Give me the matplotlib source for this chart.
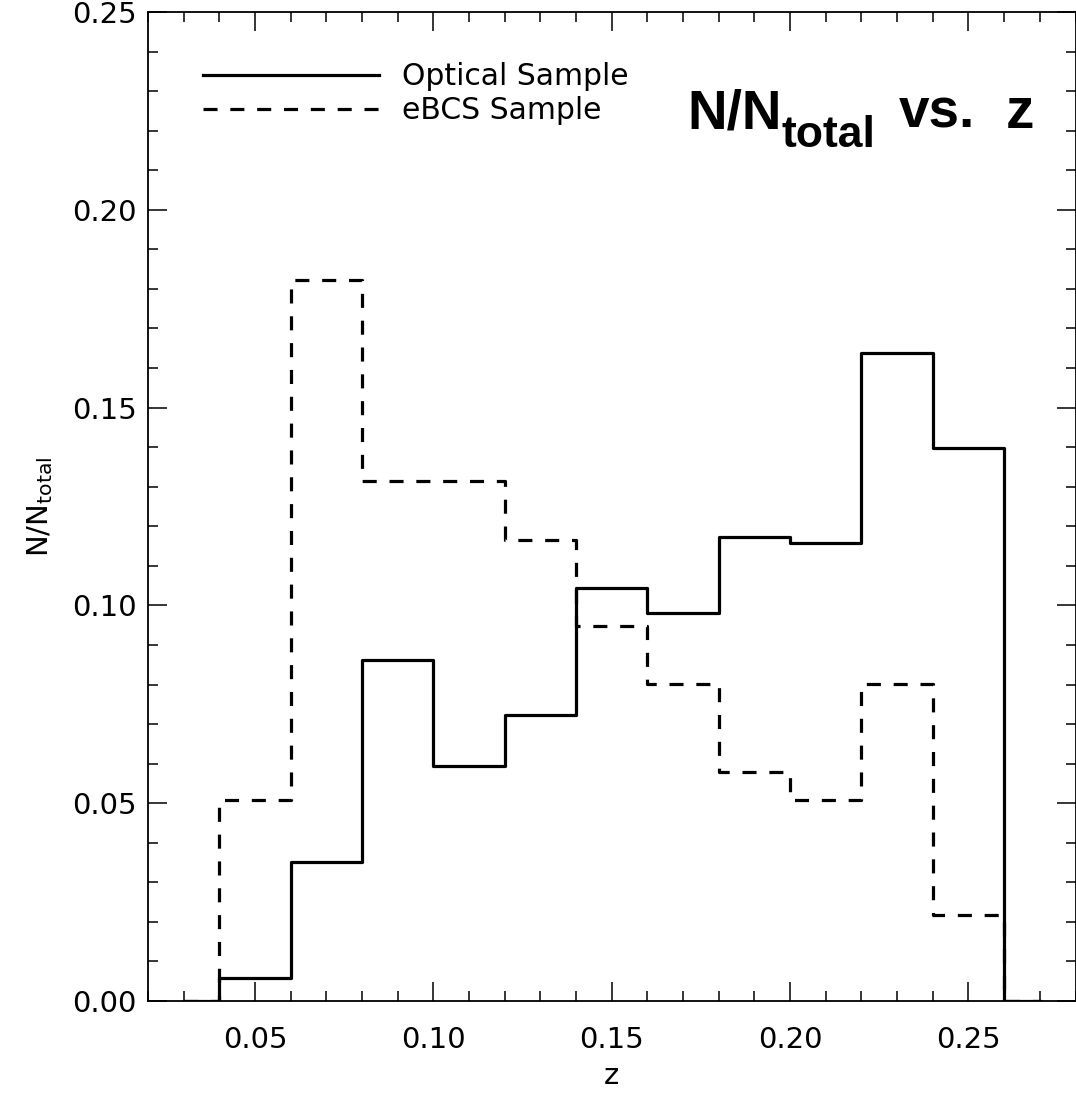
import numpy as np
import matplotlib
matplotlib.use("Agg")
import matplotlib.pyplot as plt
from matplotlib.ticker import MultipleLocator, FormatStrFormatter

# Bin centres (IDL psym=10 style histogram, width 0.02)
z_centers = [0.03, 0.05, 0.07, 0.09, 0.11, 0.13, 0.15, 0.17, 0.19, 0.21, 0.23, 0.25, 0.27]
optical_frac = [0.0, 0.0059, 0.0352, 0.0863, 0.0594, 0.0722, 0.1043, 0.0981,
                0.1172, 0.1157, 0.1638, 0.1398, 0.0]
ebcs_frac = [0.0, 0.0508, 0.1823, 0.1315, 0.1315, 0.1166, 0.0947, 0.0802,
             0.0580, 0.0509, 0.0801, 0.0217, 0.0]
series_labels = ['Optical Sample', 'eBCS Sample']

W, H = 1076, 1093
fig = plt.figure(figsize=(W / 100, H / 100), dpi=100)
ax = fig.add_axes([148 / W, 1 - 1001 / H, 927.5 / W, 989 / H])

lw = 2.3
ax.step(z_centers, optical_frac, where='mid', color='black', lw=lw,
        label=series_labels[0])
ax.step(z_centers, ebcs_frac, where='mid', color='black', lw=lw,
        linestyle=(0, (4.4, 4.0)), label=series_labels[1])

ax.set_xlim(0.02, 0.28)
ax.set_ylim(0.0, 0.25)

ax.xaxis.set_major_locator(MultipleLocator(0.05))
ax.xaxis.set_minor_locator(MultipleLocator(0.01))
ax.yaxis.set_major_locator(MultipleLocator(0.05))
ax.yaxis.set_minor_locator(MultipleLocator(0.01))
ax.xaxis.set_major_formatter(FormatStrFormatter('%.2f'))
ax.yaxis.set_major_formatter(FormatStrFormatter('%.2f'))
ax.set_xticks([0.05, 0.10, 0.15, 0.20, 0.25])

for s in ax.spines.values():
    s.set_linewidth(1.3)
ax.tick_params(which='both', direction='in', top=True, right=True, width=1.1,
               labelsize=21)
ax.tick_params(which='major', length=13.5)
ax.tick_params(which='minor', length=7.5)
ax.tick_params(axis='x', which='major', pad=18)
ax.tick_params(axis='y', which='major', pad=8)

ax.set_xlabel('z', fontsize=21, labelpad=6)
ax.set_ylabel(r'N/N$_{\rm total}$', fontsize=21, labelpad=12)

ax.legend(loc='upper left', bbox_to_anchor=((203 - 148) / 927.5, 0.949),
          frameon=False, fontsize=21.5, handlelength=5.9, handletextpad=0.77,
          labelspacing=0.16, borderpad=0, borderaxespad=0)

# big annotation in the upper right
tkw = dict(transform=ax.transAxes, va='baseline', ha='left', color='black',
           family='Liberation Sans', weight='bold')
ax.text((687 - 148) / 927.5, (1001 - 128) / 989, 'N/N', fontsize=39.5, **tkw)
ax.text((782 - 148) / 927.5, (1001 - 147) / 989, 'total', fontsize=32, **tkw)
ax.text((899 - 148) / 927.5, (1001 - 128) / 989, 'vs.', fontsize=39.5, **tkw)
ax.text((1006 - 148) / 927.5, (1001 - 128) / 989, 'z', fontsize=41, **tkw)

fig.savefig('out.png', dpi=100)
